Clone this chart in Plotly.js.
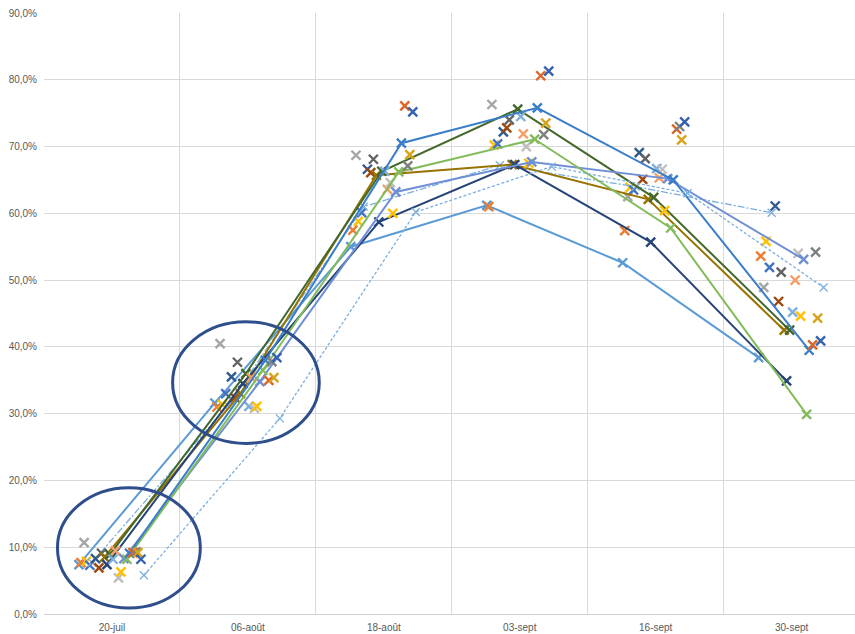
<!DOCTYPE html>
<html>
<head>
<meta charset="utf-8">
<script src="https://cdn.plot.ly/plotly-3.0.1.min.js"></script>
<style>
  html, body { margin: 0; padding: 0; background: #ffffff; }
  #chart { width: 855px; height: 634px; }
</style>
</head>
<body>
<div id="chart"></div>
<script>
// Survey dates shown on the horizontal axis
const categories = ['20-juil', '06-août', '18-août', '03-sept', '16-sept', '30-sept'];

// Percentages per series (one value per date)
const s01 = [0.074, 0.316, 0.550, 0.612, 0.526, 0.384];
const s02 = [0.077, 0.310, 0.575, 0.610, 0.574, 0.536];
const s03 = [0.107, 0.405, 0.687, 0.763, 0.625, 0.489];
const s04 = [0.079, 0.314, 0.588, 0.702, 0.639, 0.558];
const s05 = [0.073, 0.330, 0.601, 0.704, 0.635, 0.519];
const s06 = [0.077, 0.312, 0.610, 0.672, 0.640, 0.601];
const s07 = [0.083, 0.355, 0.666, 0.722, 0.691, 0.611];
const s08 = [0.069, 0.324, 0.661, 0.728, 0.651, 0.468];
const s09 = [0.091, 0.377, 0.681, 0.740, 0.682, 0.512];
const s10 = [0.085, 0.330, 0.657, 0.673, 0.621, 0.425];
const s11 = [0.074, 0.345, 0.587, 0.673, 0.557, 0.349];
const s12 = [0.089, 0.360, 0.663, 0.756, 0.624, 0.425];
const s13 = [0.082, 0.311, 0.663, 0.745, 0.667, 0.452];
const s14 = [0.095, 0.354, 0.636, 0.719, 0.653, 0.500];
const s15 = [0.054, 0.308, 0.646, 0.700, 0.666, 0.540];
const s16 = [0.063, 0.311, 0.600, 0.675, 0.604, 0.446];
const s17 = [0.083, 0.348, 0.632, 0.677, 0.652, 0.531];
const s18 = [0.082, 0.365, 0.662, 0.711, 0.578, 0.299];
const s19 = [0.091, 0.380, 0.705, 0.758, 0.650, 0.395];
const s20 = [0.092, 0.350, 0.761, 0.806, 0.726, 0.403];
const s21 = [0.093, 0.378, 0.671, 0.718, 0.730, 0.542];
const s22 = [0.092, 0.354, 0.688, 0.735, 0.710, 0.443];
const s23 = [0.082, 0.384, 0.752, 0.813, 0.737, 0.409];
const s24 = [0.058, 0.293, 0.602, 0.670, 0.630, 0.489];

const yTicks = [0, 0.1, 0.2, 0.3, 0.4, 0.5, 0.6, 0.7, 0.8, 0.9];
const yTickText = ['0,0%', '10,0%', '20,0%', '30,0%', '40,0%', '50,0%', '60,0%', '70,0%', '80,0%', '90,0%'];

// Drawing style per series: horizontal shift inside each date slot,
// colour, and whether the points are joined by a line.
const styles = [
  { v: s01, shift: -0.243, color: '#5B9BD5', line: 'solid' },
  { v: s02, shift: -0.228, color: '#ED7D31' },
  { v: s03, shift: -0.205, color: '#A5A5A5' },
  { v: s04, shift: -0.188, color: '#FFC000' },
  { v: s05, shift: -0.163, color: '#4472C4' },
  { v: s06, shift: -0.147, color: '#7CAFDD', line: '7px,2px,2px,2px', thin: true },
  { v: s07, shift: -0.121, color: '#2E5B8E' },
  { v: s08, shift: -0.096, color: '#9E480E' },
  { v: s09, shift: -0.077, color: '#636363' },
  { v: s10, shift: -0.055, color: '#997300', line: 'solid' },
  { v: s11, shift: -0.037, color: '#264478', line: 'solid' },
  { v: s12, shift: -0.015, color: '#43682B', line: 'solid' },
  { v: s13, shift:  0.007, color: '#7CAFDD' },
  { v: s14, shift:  0.026, color: '#F4A06A' },
  { v: s15, shift:  0.048, color: '#BFBFBF' },
  { v: s16, shift:  0.066, color: '#FFC000' },
  { v: s17, shift:  0.088, color: '#6F8FD4', line: 'solid' },
  { v: s18, shift:  0.110, color: '#82BC5A', line: 'solid' },
  { v: s19, shift:  0.129, color: '#3A7DC9', line: 'solid' },
  { v: s20, shift:  0.154, color: '#DD6527' },
  { v: s21, shift:  0.176, color: '#7F7F7F' },
  { v: s22, shift:  0.191, color: '#D6A41A' },
  { v: s23, shift:  0.213, color: '#3562B0' },
  { v: s24, shift:  0.235, color: '#7CAFDD', line: '3px,2px', thin: true }
];

const traces = styles.map((st, i) => ({
  type: 'scatter',
  name: 'Série ' + (i + 1),
  x: st.v.map((_, k) => k + st.shift),
  y: st.v,
  mode: st.line ? 'lines+markers' : 'markers',
  line: st.line ? { color: st.color, width: st.thin ? 1.3 : 2, dash: st.line } : undefined,
  marker: {
    symbol: 'x-thin-open',
    size: st.thin ? 8 : 9,
    color: st.color,
    line: { color: st.color, width: st.thin ? 1.3 : 2.4 }
  },
  hoverinfo: 'x+y',
  showlegend: false
}));

// Category boundaries carry the vertical grid
const slotEdges = [-0.5, 0.5, 1.5, 2.5, 3.5, 4.5, 5.5];

const layout = {
  width: 855,
  height: 634,
  margin: { l: 44, r: 0, t: 13, b: 20 },
  paper_bgcolor: '#ffffff',
  plot_bgcolor: '#ffffff',
  font: { family: 'Liberation Sans, Arial, sans-serif', size: 10, color: '#595959' },
  showlegend: false,
  xaxis: {
    range: [-0.5, 5.466],
    tickmode: 'array',
    tickvals: [0, 1, 2, 3, 4, 5],
    ticktext: categories,
    showgrid: false,
    zeroline: false,
    showline: true,
    linecolor: '#D0D0D0',
    linewidth: 1,
    ticks: '',
    ticklabelstandoff: 4,
    tickfont: { size: 10, color: '#595959' },
    minor: {
      tickmode: 'array',
      tickvals: slotEdges,
      showgrid: true,
      gridcolor: '#D9D9D9',
      gridwidth: 1,
      ticks: ''
    }
  },
  yaxis: {
    range: [0, 0.9],
    tickmode: 'array',
    tickvals: yTicks,
    ticktext: yTickText,
    showgrid: true,
    gridcolor: '#D9D9D9',
    gridwidth: 1,
    zeroline: false,
    showline: false,
    ticks: '',
    ticklabelstandoff: 6,
    tickfont: { size: 10, color: '#595959' }
  },
  shapes: [
    {
      type: 'circle', xref: 'x', yref: 'y',
      x0: -0.401, x1: 0.650, y0: 0.009, y1: 0.189,
      line: { color: '#2F4E8C', width: 3 }
    },
    {
      type: 'circle', xref: 'x', yref: 'y',
      x0: 0.446, x1: 1.525, y0: 0.2555, y1: 0.4376,
      line: { color: '#2F4E8C', width: 3 }
    }
  ]
};

Plotly.newPlot('chart', traces, layout, { staticPlot: true, displayModeBar: false });
</script>
</body>
</html>
